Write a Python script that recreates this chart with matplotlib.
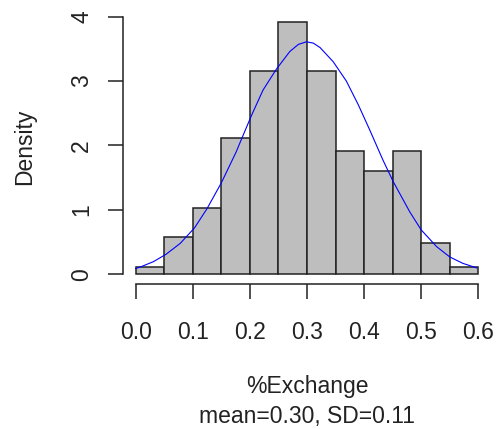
import matplotlib
matplotlib.use("Agg")
import matplotlib.pyplot as plt
import numpy as np

plt.rcParams['font.family'] = ['Liberation Sans', 'DejaVu Sans']

# histogram bins (%Exchange) and density heights
bin_edges = [0.0, 0.05, 0.10, 0.15, 0.20, 0.25, 0.30, 0.35, 0.40, 0.45, 0.50, 0.55, 0.60]
density = [0.11, 0.58, 1.03, 2.12, 3.16, 3.91, 3.16, 1.92, 1.61, 1.92, 0.49, 0.11]

# blue density curve
curve_x = [0.0, 0.01, 0.031, 0.053, 0.078, 0.103, 0.125, 0.15, 0.176, 0.183, 0.203,
           0.223, 0.246, 0.27, 0.285, 0.299, 0.311, 0.323, 0.346, 0.369, 0.39, 0.41,
           0.433, 0.451, 0.48, 0.50, 0.527, 0.55, 0.573, 0.597]
curve_y = [0.09, 0.12, 0.196, 0.31, 0.48, 0.72, 1.02, 1.42, 1.90, 2.05, 2.47,
           2.86, 3.18, 3.46, 3.57, 3.61, 3.59, 3.52, 3.30, 3.00, 2.63, 2.24,
           1.775, 1.44, 0.97, 0.69, 0.43, 0.27, 0.17, 0.10]

x_ticks = [0.0, 0.1, 0.2, 0.3, 0.4, 0.5, 0.6]
x_labels = ['0.0', '0.1', '0.2', '0.3', '0.4', '0.5', '0.6']
y_ticks = [0, 1, 2, 3, 4]

fig = plt.figure(figsize=(4.97, 4.29), dpi=100)
ax = fig.add_axes([0.2730, 0.3606, 0.6893, 0.6005])

lefts = np.array(bin_edges[:-1])
widths = np.diff(bin_edges)
ax.bar(lefts, density, width=widths, align='edge', color='#bebebe',
       edgecolor='#222222', linewidth=1.1, clip_on=False)
ax.plot(curve_x, curve_y, color='#0000ff', linewidth=0.8, clip_on=False)

ax.set_xlim(0, 0.6)
ax.set_ylim(0, 4)

for s in ['top', 'right']:
    ax.spines[s].set_visible(False)
ax.spines['left'].set_position(('outward', 9))
ax.spines['bottom'].set_position(('outward', 7))
ax.spines['left'].set_bounds(0, 4)
ax.spines['bottom'].set_bounds(0, 0.6)
for s in ['left', 'bottom']:
    ax.spines[s].set_linewidth(1.1)
    ax.spines[s].set_color('#222222')

ax.set_xticks(x_ticks)
ax.set_xticklabels(x_labels)
ax.set_yticks(y_ticks)
ax.set_yticklabels([str(v) for v in y_ticks], rotation=90, va='center')
ax.tick_params(axis='x', length=10.5, width=1.1, pad=16, labelsize=16.5,
               color='#222222', labelcolor='#222222')
ax.tick_params(axis='y', length=10.5, width=1.1, pad=11, labelsize=16.5,
               color='#222222', labelcolor='#222222')

fig.text(25 / 497, 1 - 147 / 429, 'Density', rotation=90, ha='center', va='center',
         fontsize=16.5, color='#222222')
fig.text(307 / 497, 1 - 386 / 429, '%Exchange', ha='center', va='center',
         fontsize=16.5, color='#222222')
fig.text(307 / 497, 1 - 416 / 429, 'mean=0.30, SD=0.11', ha='center', va='center',
         fontsize=16.5, color='#222222')

fig.savefig('out.png', dpi=100)
